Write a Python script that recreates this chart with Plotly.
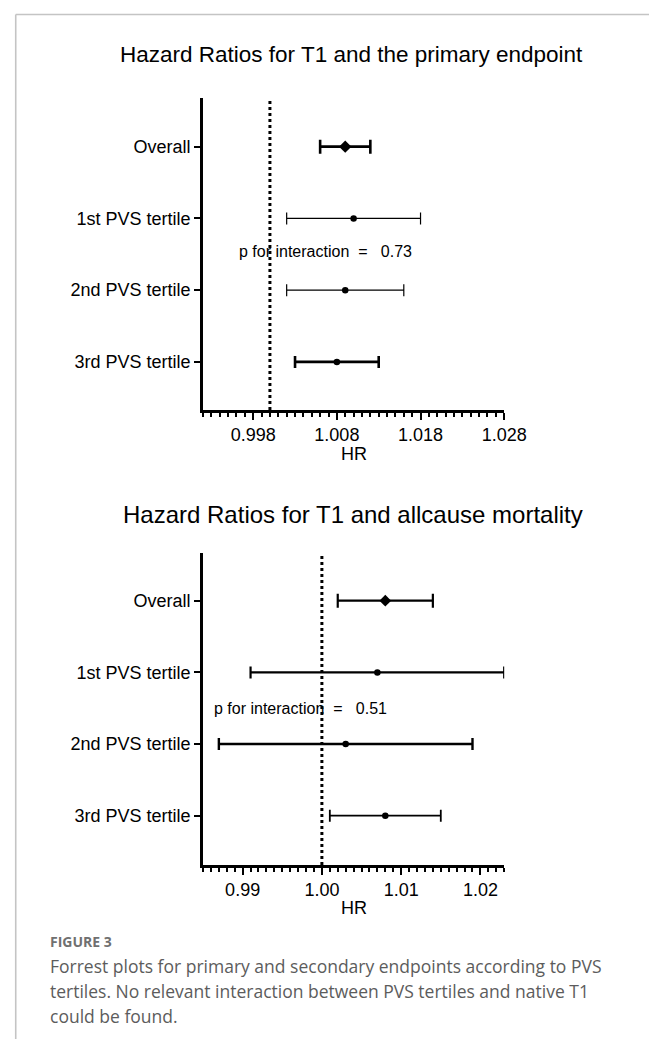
import plotly.graph_objects as go

# ---------------- data ----------------
categories = ["Overall", "1st PVS tertile", "2nd PVS tertile", "3rd PVS tertile"]

# Panel 1: primary endpoint
hr_primary = [1.009, 1.010, 1.009, 1.008]
lo_primary = [1.006, 1.002, 1.002, 1.003]
hi_primary = [1.012, 1.018, 1.016, 1.013]
p_primary = "0.73"

# Panel 2: all-cause mortality
hr_mort = [1.008, 1.007, 1.003, 1.008]
lo_mort = [1.002, 0.991, 0.987, 1.001]
hi_mort = [1.014, 1.023, 1.019, 1.015]
p_mort = "0.51"

ref_hr = 1.0

x_ticks_primary = [0.998, 1.008, 1.018, 1.028]
x_ticks_mort = [0.99, 1.00, 1.01, 1.02]
x_ticktext_mort = ["0.99", "1.00", "1.01", "1.02"]

title_primary = "Hazard Ratios for T1 and the primary endpoint"
title_mort = "Hazard Ratios for T1 and allcause mortality"
caption_label = "FIGURE 3"
caption_lines = [
    "Forrest plots for primary and secondary endpoints according to PVS",
    "tertiles. No relevant interaction between PVS tertiles and native T1",
    "could be found.",
]

# ---------------- layout helpers ----------------
W, H = 664, 1039


def px(x):
    return x / W


def py(y):
    return 1 - y / H


FONT = "Liberation Sans, Arial, sans-serif"
CAP_FONT = "Open Sans, Lato, sans-serif"

fig = go.Figure()

panels = [
    dict(hr=hr_primary, lo=lo_primary, hi=hi_primary, xa="x", ya="y",
         thick=[2.6, 1.2, 1.2, 2.6], cap=[7, 6, 6, 6],
         dsize=9.5, csize=6.5),
    dict(hr=hr_mort, lo=lo_mort, hi=hi_mort, xa="x2", ya="y2",
         thick=[2.2, 2.2, 2.4, 1.8], cap=[7, 6, 6, 6],
         dsize=9, csize=6.5),
]

for p in panels:
    for i, cat in enumerate(categories):
        fig.add_trace(go.Scatter(
            x=[p["hr"][i]], y=[i], mode="markers",
            xaxis=p["xa"], yaxis=p["ya"],
            marker=dict(symbol="diamond" if i == 0 else "circle",
                        size=p["dsize"] if i == 0 else p["csize"],
                        color="black", line=dict(width=0)),
            error_x=dict(type="data", symmetric=False,
                         array=[p["hi"][i] - p["hr"][i]],
                         arrayminus=[p["hr"][i] - p["lo"][i]],
                         color="black", thickness=p["thick"][i],
                         width=p["cap"][i]),
            showlegend=False, hoverinfo="skip",
        ))

xdom = [px(202), px(514)]
common_x = dict(showline=True, linewidth=2.6, linecolor="black",
                ticks="outside", ticklen=7, tickwidth=2, tickcolor="black",
                showgrid=False, zeroline=False,
                tickfont=dict(family=FONT, size=18, color="black"),
                domain=xdom)
common_y = dict(showline=True, linewidth=2.6, linecolor="black",
                ticks="outside", ticklen=6, tickwidth=2, tickcolor="black",
                showgrid=False, zeroline=False, tickmode="array",
                tickvals=list(range(len(categories))), ticktext=categories,
                tickfont=dict(family=FONT, size=18, color="black"))

fig.update_layout(
    width=W, height=H,
    margin=dict(l=0, r=0, t=0, b=0),
    paper_bgcolor="white", plot_bgcolor="white",
    xaxis=dict(common_x, anchor="y", range=[0.992, 1.028],
               tickmode="array", tickvals=x_ticks_primary,
               ticktext=[f"{v:.3f}" for v in x_ticks_primary],
               minor=dict(dtick=0.001, tick0=0.992, ticks="outside",
                          ticklen=4, tickwidth=1.6, tickcolor="black")),
    yaxis=dict(common_y, anchor="x", range=[3.67, -0.678],
               domain=[py(402), py(90)]),
    xaxis2=dict(common_x, anchor="y2", range=[0.985, 1.023],
                tickmode="array", tickvals=x_ticks_mort,
                ticktext=x_ticktext_mort,
                minor=dict(dtick=0.001, tick0=0.985, ticks="outside",
                           ticklen=4, tickwidth=1.6, tickcolor="black")),
    yaxis2=dict(common_y, anchor="x2", range=[3.688, -0.666],
                domain=[py(857), py(545)]),
)

# reference lines at HR = 1
for xr, yr in (("x", "y"), ("x2", "y2")):
    fig.add_shape(type="line", xref=xr, yref=f"{yr} domain",
                  x0=ref_hr, x1=ref_hr, y0=0, y1=1,
                  line=dict(color="black", width=3, dash="dot"), layer="above")

# page frame lines
fig.add_shape(type="line", xref="paper", yref="paper",
              x0=px(8), x1=1, y0=py(6.5), y1=py(6.5),
              line=dict(color="#c4c4c4", width=1.6))
fig.add_shape(type="line", xref="paper", yref="paper",
              x0=px(8), x1=px(8), y0=py(6.5), y1=0,
              line=dict(color="#c4c4c4", width=1.6))

NB = "\u00a0"
annos = [
    dict(text=title_primary, x=px(356), y=py(47), size=22.5),
    dict(text=title_mort, x=px(357), y=py(506), size=24),
    dict(text="HR", x=px(358), y=py(446), size=18),
    dict(text="HR", x=px(358), y=py(900), size=18),
]
for a in annos:
    fig.add_annotation(text=a["text"], x=a["x"], y=a["y"], xref="paper",
                       yref="paper", xanchor="center", yanchor="middle",
                       showarrow=False,
                       font=dict(family=FONT, size=a["size"], color="black"))

fig.add_annotation(text=f"p for interaction{NB}{NB}={NB}{NB}{NB}{p_primary}",
                   x=px(237), y=py(243), xref="paper", yref="paper",
                   xanchor="left", yanchor="middle", showarrow=False,
                   font=dict(family=FONT, size=16, color="black"))
fig.add_annotation(text=f"p for interaction{NB}{NB}={NB}{NB}{NB}{p_mort}",
                   x=px(211), y=py(700), xref="paper", yref="paper",
                   xanchor="left", yanchor="middle", showarrow=False,
                   font=dict(family=FONT, size=16, color="black"))

# caption
fig.add_annotation(text=f"<b>{caption_label}</b>", x=px(41), y=py(933),
                   xref="paper", yref="paper", xanchor="left",
                   yanchor="middle", showarrow=False,
                   font=dict(family=CAP_FONT, size=14, color="#707070"))
for k, line in enumerate(caption_lines):
    fig.add_annotation(text=line, x=px(41), y=py(958 + 25 * k),
                       xref="paper", yref="paper", xanchor="left",
                       yanchor="middle", showarrow=False,
                       font=dict(family=CAP_FONT, size=17.5, color="#5c5c5c"))

fig.write_html("out.html")
